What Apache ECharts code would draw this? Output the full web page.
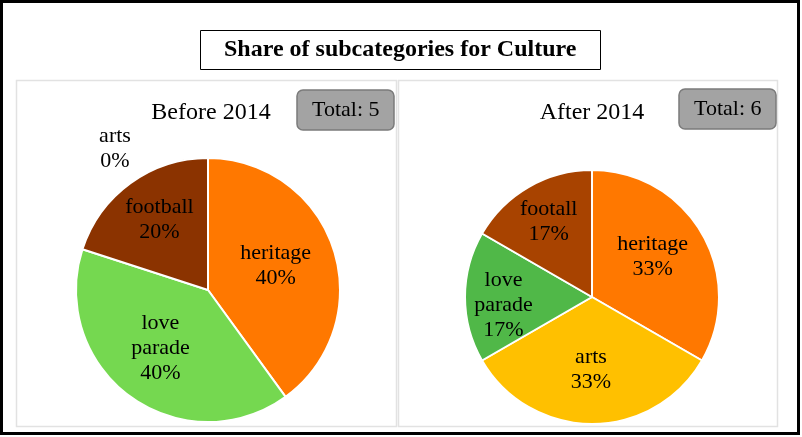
<!DOCTYPE html>
<html>
<head>
<meta charset="utf-8">
<script src="https://cdn.jsdelivr.net/npm/echarts@6/dist/echarts.min.js"></script>
<style>
  html, body { margin: 0; padding: 0; background: #fff; }
  #chart { width: 802px; height: 437px; }
</style>
</head>
<body>
<div id="chart"></div>
<script>
// Share of subcategories for Culture
var beforeNames = ['heritage', 'love\nparade', 'football', 'arts'];
var beforeValues = [2, 2, 1, 0];
var beforeColors = ['#ff7800', '#75d850', '#8b3300', '#ffc000'];

var afterNames = ['heritage', 'arts', 'love\nparade', 'footall'];
var afterValues = [2, 2, 1, 1];
var afterColors = ['#ff7800', '#ffc000', '#50b848', '#a84300'];

var serif = '"Liberation Serif", "DejaVu Serif", serif';

// small label nudges (px) so labels sit where the original put them
var beforeNudge = [[2, -3], [-7, 2], [-8, -14], [-93, -72]];
var afterNudge = [[3, -7], [-1, 6], [-22, 8], [-10, -18]];

function pieData(names, values, colors, nudge) {
  return names.map(function(n, i) {
    return {
      name: n, value: values[i],
      itemStyle: { color: colors[i] },
      label: { offset: nudge[i] }
    };
  });
}

function totalOf(values) {
  return values.reduce(function(a, b) { return a + b; }, 0);
}

function pctFormatter(values) {
  var total = totalOf(values);
  return function(p) {
    return p.name + '\n' + Math.round(p.value / total * 100) + '%';
  };
}

var chart = echarts.init(document.getElementById('chart'));

var boxTitle = function(text, left, top) {
  return {
    text: text, left: left, top: top,
    backgroundColor: '#a3a3a3', borderColor: '#7b7b7b', borderWidth: 1.5,
    borderRadius: 6, padding: [9, 15, 9, 15],
    textStyle: { fontFamily: serif, fontSize: 22, fontWeight: 'normal', color: '#000', lineHeight: 22 }
  };
};

var subTitle = function(text, left) {
  return {
    text: text, left: left, top: 96, textAlign: 'center',
    textStyle: { fontFamily: serif, fontSize: 24, fontWeight: 'normal', color: '#000' }
  };
};

var pieLabel = function(values) {
  return {
    position: 'inside', color: '#000', fontFamily: serif, fontSize: 22, lineHeight: 25,
    formatter: pctFormatter(values)
  };
};

chart.setOption({
  animation: false,
  graphic: [
    { type: 'rect', shape: { x: 1.5, y: 1.5, width: 797, height: 432 }, style: { fill: 'none', stroke: '#000', lineWidth: 3 } },
    { type: 'rect', shape: { x: 16.5, y: 80.5, width: 380, height: 346 }, style: { fill: 'none', stroke: '#e2e2e2', lineWidth: 1.5 } },
    { type: 'rect', shape: { x: 398.5, y: 80.5, width: 379, height: 346 }, style: { fill: 'none', stroke: '#e2e2e2', lineWidth: 1.5 } }
  ],
  title: [
    {
      text: 'Share of subcategories for Culture', left: 200, top: 30,
      borderColor: '#000', borderWidth: 1, padding: [8, 24, 8, 24],
      textStyle: { fontFamily: serif, fontSize: 24, fontWeight: 'bold', color: '#000', lineHeight: 24 }
    },
    subTitle('Before 2014', 206),
    subTitle('After 2014', 587),
    boxTitle('Total: ' + totalOf(beforeValues), 297, 90),
    boxTitle('Total: ' + totalOf(afterValues), 679, 89)
  ],
  series: [
    {
      type: 'pie', center: [208, 290], radius: 132,
      startAngle: 90, clockwise: true, avoidLabelOverlap: false,
      itemStyle: { borderColor: '#fff', borderWidth: 2 },
      label: pieLabel(beforeValues),
      labelLine: { show: false },
      emphasis: { disabled: true },
      data: pieData(beforeNames, beforeValues, beforeColors, beforeNudge)
    },
    {
      type: 'pie', center: [592, 297], radius: 127,
      startAngle: 90, clockwise: true, avoidLabelOverlap: false,
      itemStyle: { borderColor: '#fff', borderWidth: 2 },
      label: pieLabel(afterValues),
      labelLine: { show: false },
      emphasis: { disabled: true },
      data: pieData(afterNames, afterValues, afterColors, afterNudge)
    }
  ]
});
</script>
</body>
</html>
